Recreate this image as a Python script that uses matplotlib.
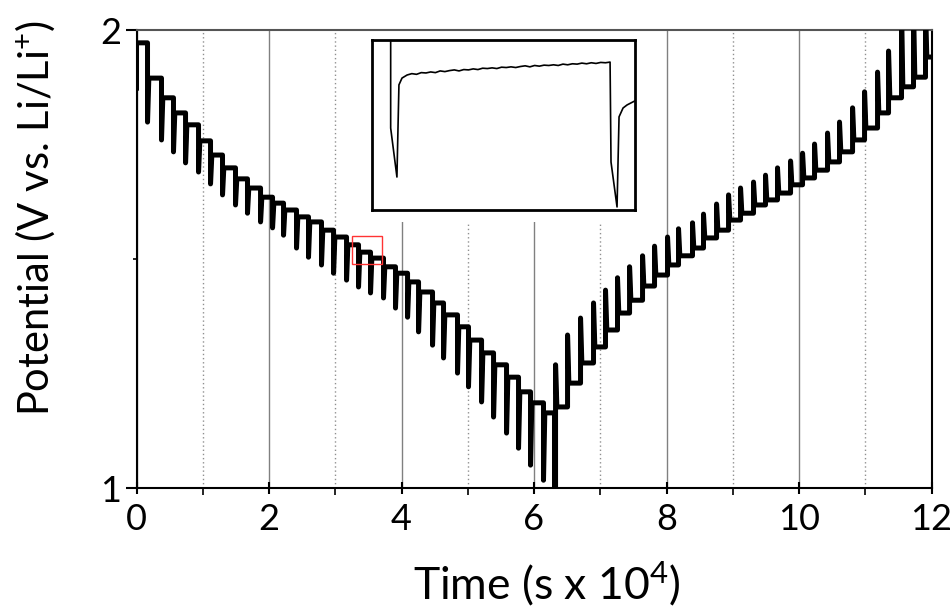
import matplotlib
matplotlib.use("Agg")
import matplotlib.pyplot as plt
from matplotlib.patches import Rectangle

plt.rcParams['font.family'] = ['Lato', 'DejaVu Sans']
plt.rcParams['mathtext.default'] = 'regular'

# ============================================================
# DATA (time in 10^4 s, potential in V vs Li/Li+)
# ============================================================

# discharge: start value, first rest level, then pulses
dis_start_v = 1.873
dis_rest0 = 1.972
dis_t = [0.166, 0.377, 0.558, 0.740, 0.936, 1.117, 1.298, 1.494, 1.675, 1.872,
         2.053, 2.219, 2.415, 2.596, 2.792, 2.974, 3.170, 3.351, 3.532, 3.728,
         3.909, 4.091, 4.257, 4.468, 4.634, 4.845, 5.011, 5.208, 5.389, 5.585,
         5.766, 5.947, 6.143, 6.309]
dis_min = [1.799, 1.760, 1.734, 1.710, 1.690, 1.664, 1.640, 1.618, 1.600, 1.581,
           1.568, 1.552, 1.524, 1.504, 1.487, 1.469, 1.454, 1.439, 1.426, 1.415,
           1.393, 1.373, 1.341, 1.312, 1.284, 1.251, 1.221, 1.188, 1.155, 1.120,
           1.087, 1.050, 1.017, 0.980]
dis_rest = [1.895, 1.852, 1.819, 1.793, 1.758, 1.727, 1.699, 1.675, 1.655, 1.635,
            1.622, 1.607, 1.592, 1.581, 1.563, 1.548, 1.531, 1.515, 1.502, 1.483,
            1.469, 1.450, 1.428, 1.404, 1.378, 1.352, 1.323, 1.295, 1.269, 1.242,
            1.210, 1.186, 1.164]

# charge: starts from the cut-off
chg_start_v = 0.980
chg_t = [6.325, 6.506, 6.702, 6.898, 7.079, 7.260, 7.442, 7.638, 7.819, 8.015,
         8.181, 8.392, 8.558, 8.755, 8.936, 9.117, 9.313, 9.494, 9.675, 9.872,
         10.053, 10.234, 10.430, 10.611, 10.808, 10.989, 11.185, 11.351, 11.547,
         11.728, 11.909]
chg_max = [1.269, 1.334, 1.371, 1.404, 1.432, 1.459, 1.483, 1.507, 1.528, 1.548,
           1.566, 1.579, 1.598, 1.620, 1.640, 1.655, 1.668, 1.683, 1.699, 1.714,
           1.731, 1.751, 1.775, 1.799, 1.830, 1.865, 1.908, 1.954, 2.050, 2.050,
           2.050]
chg_rest = [1.177, 1.229, 1.273, 1.308, 1.345, 1.382, 1.410, 1.441, 1.465, 1.487,
            1.507, 1.524, 1.546, 1.563, 1.585, 1.600, 1.618, 1.629, 1.644, 1.662,
            1.677, 1.694, 1.712, 1.734, 1.760, 1.786, 1.819, 1.852, 1.876, 1.897,
            1.941]
t_end = 12.0

# zoomed region shown in the inset
zoom_t = (3.245, 3.698)
zoom_v = (1.489, 1.550)

# inset: one pulse + relaxation (time in s, potential in V)
inset_t = [161, 161, 214, 231, 257, 300, 340, 380, 420, 460, 500, 540, 580, 620,
           660, 700, 740, 780, 820, 860, 900, 940, 980, 1020, 1060, 1100, 1140,
           1180, 1220, 1260, 1300, 1340, 1380, 1420, 1460, 1500, 1540, 1580, 1620,
           1660, 1700, 1740, 1780, 1820, 1860, 1900, 1940, 1980, 2019, 2027, 2078,
           2095, 2129, 2163, 2230]
inset_v = [1.4460, 1.4141, 1.3997, 1.4268, 1.4288, 1.4297, 1.4301, 1.4299, 1.4304,
           1.4303, 1.4306, 1.4304, 1.4309, 1.4307, 1.4310, 1.4312, 1.4309, 1.4313,
           1.4312, 1.4315, 1.4313, 1.4317, 1.4316, 1.4318, 1.4316, 1.4320, 1.4319,
           1.4321, 1.4319, 1.4322, 1.4324, 1.4321, 1.4325, 1.4323, 1.4326, 1.4325,
           1.4327, 1.4325, 1.4329, 1.4327, 1.4330, 1.4329, 1.4332, 1.4330, 1.4333,
           1.4331, 1.4334, 1.4333, 1.4335, 1.4041, 1.3909, 1.4174, 1.4200, 1.4209,
           1.4221]

PULSE_W = 0.02

# ============================================================
# BUILD THE GITT CURVE
# ============================================================

tt = [0.0, 0.0]
vv = [dis_start_v, dis_rest0]
level = dis_rest0
for i, t in enumerate(dis_t):
    tt += [t, t]
    vv += [level, dis_min[i]]
    if i < len(dis_rest):
        level = dis_rest[i]
        tt.append(t + PULSE_W)
        vv.append(level)

level = chg_start_v
for i, t in enumerate(chg_t):
    tt += [t, t, t + PULSE_W]
    vv += [level, chg_max[i], chg_rest[i]]
    level = chg_rest[i]
tt.append(t_end)
vv.append(level)

# ============================================================
# FIGURE
# ============================================================

fig = plt.figure(figsize=(9.52, 6.15), dpi=100)
ax = fig.add_axes([0.1434, 0.2065, 0.8351, 0.7447])

ax.plot(tt, vv, color='black', lw=3.6, zorder=3)

ax.set_xlim(0, 12)
ax.set_ylim(1, 2)
ax.set_xticks(range(0, 13, 2))
ax.set_xticks(range(1, 12, 2), minor=True)
ax.set_yticks([1, 2])
ax.set_yticks([1.5], minor=True)

ax.grid(which='major', axis='x', color='#808080', lw=1.0)
ax.grid(which='minor', axis='x', color='#909090', lw=1.0, ls=(0, (1, 2)))

# white area behind the inset
ax.add_patch(Rectangle((0.280, 0.581), 0.362, 0.419, transform=ax.transAxes,
                       facecolor='white', edgecolor='none', zorder=1.8))

# red box marking the zoomed region
ax.add_patch(Rectangle((zoom_t[0], zoom_v[0]), zoom_t[1] - zoom_t[0],
                       zoom_v[1] - zoom_v[0], facecolor='none',
                       edgecolor='#ff3333', lw=1.0, zorder=4))

for side in ['left', 'bottom', 'right']:
    ax.spines[side].set_linewidth(1.5)
    ax.spines[side].set_color('black')
ax.spines['top'].set_linewidth(1.5)
ax.spines['top'].set_color('#555555')

ax.tick_params(axis='x', which='major', direction='inout', length=9, width=1.5,
               labelsize=26, pad=6)
ax.tick_params(axis='x', which='minor', direction='out', length=5, width=1.2)
ax.tick_params(axis='y', which='major', direction='out', length=8, width=1.5,
               labelsize=26, pad=3)
ax.tick_params(axis='y', which='minor', direction='out', length=3, width=1.2)

ax.set_xlabel('Time (s x 10$^{4}$)', fontsize=32)
ax.xaxis.set_label_coords(0.516, -0.155)
ax.set_ylabel('Potential (V vs. Li/Li$^{+}$)', fontsize=30)
ax.yaxis.set_label_coords(-0.10, 0.59)

# ============================================================
# INSET
# ============================================================

axin = fig.add_axes([0.3904, 0.6585, 0.2766, 0.2765])
axin.plot(inset_t, inset_v, color='black', lw=1.2)
axin.set_xlim(0, 2230)
axin.set_ylim(1.390, 1.440)
axin.set_xticks([])
axin.set_yticks([])
for side in axin.spines:
    axin.spines[side].set_linewidth(2.0)

fig.savefig('out.png', dpi=100)
